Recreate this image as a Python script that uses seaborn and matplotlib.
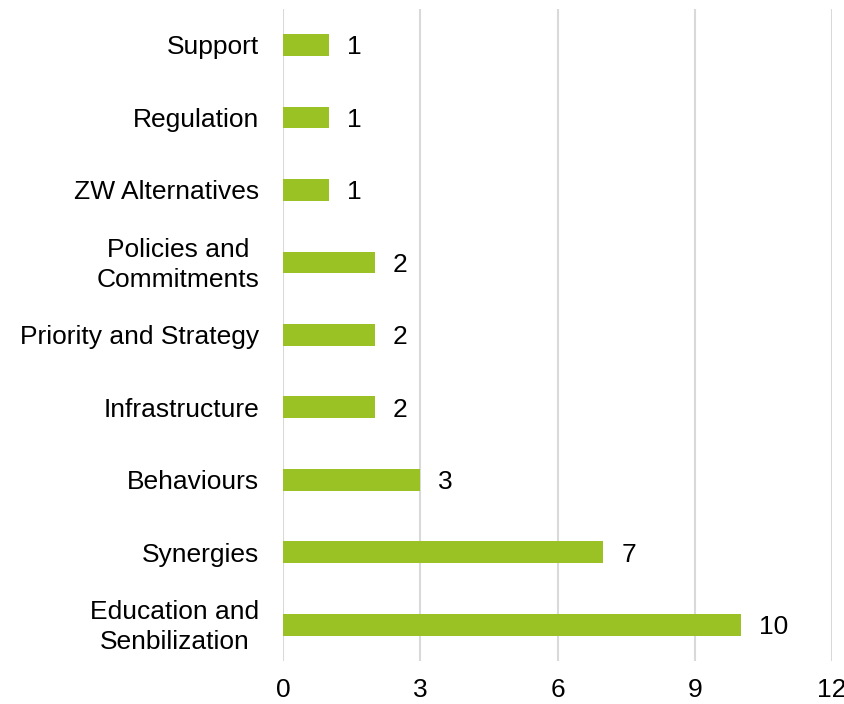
import matplotlib
matplotlib.use("Agg")
import matplotlib.pyplot as plt
import matplotlib.transforms as mtransforms
import seaborn as sns
import pandas as pd

categories = ["Support", "Regulation", "ZW Alternatives", "Policies and\nCommitments",
              "Priority and Strategy", "Infrastructure", "Behaviours", "Synergies",
              "Education and\nSenbilization"]
values = [1, 1, 1, 2, 2, 2, 3, 7, 10]
xticks = [0, 3, 6, 9, 12]

sns.set_theme(style="white")
plt.rcParams['font.family'] = ['Liberation Sans', 'DejaVu Sans']

df = pd.DataFrame({"category": categories, "value": values})

fig = plt.figure(figsize=(8.44, 7.04), dpi=100)
ax = fig.add_axes([283/844, 1-661/704, 549/844, (661-8.75)/704])

sns.barplot(data=df, x="value", y="category", orient="h", color="#9BC224",
            saturation=1, width=0.3, ax=ax, edgecolor="none")

ax.set_xlim(0, 12)
ax.set_xticks(xticks)
ax.set_xticklabels([str(t) for t in xticks])
ax.grid(axis="x", color="#D9D9D9", linewidth=1.5)
ax.set_axisbelow(True)
for s in ax.spines.values():
    s.set_visible(False)
ax.set_xlabel("")
ax.set_ylabel("")
ax.tick_params(axis="x", length=0, pad=12, labelsize=19, colors="black")
ax.tick_params(axis="y", length=0, pad=17, labelsize=19, colors="black")
shift = mtransforms.ScaledTranslation(0, 3/100, fig.dpi_scale_trans)
for lbl in ax.get_yticklabels():
    lbl.set_multialignment("center")
    lbl.set_linespacing(1.3)
    if "\n" in lbl.get_text():
        lbl.set_transform(lbl.get_transform() + shift)

texts = ax.bar_label(ax.containers[0], labels=[str(v) for v in values], padding=13,
                     fontsize=19, color="black")
for t in texts:
    t.set_va("center_baseline")

fig.savefig("out.png", dpi=100)
